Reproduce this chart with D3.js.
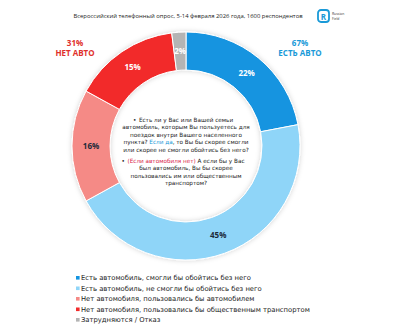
<!DOCTYPE html>
<html>
<head>
<meta charset="utf-8">
<script src="https://cdn.jsdelivr.net/npm/d3@7"></script>
<style>
  body { margin: 0; background: #fff; }
  text { font-family: "Open Sans", "Liberation Sans", Arial, sans-serif; }
  .q, .legend text { font-family: "DejaVu Sans", Verdana, sans-serif; }
</style>
</head>
<body>
<div id="chart"></div>
<script>
// survey answers, clockwise from the top
var categories = [
  "Есть автомобиль, смогли бы обойтись без него",
  "Есть автомобиль, не смогли бы обойтись без него",
  "Нет автомобиля, пользовались бы автомобилем",
  "Нет автомобиля, пользовались бы общественным транспортом",
  "Затрудняются / Отказ"
];
var values = [22, 45, 16, 15, 2];
var colors = ["#1394e0", "#8fd5f8", "#f58a86", "#f22b2b", "#b4b4b4"];
var labelColors = ["#fff", "#1d2a3a", "#1d2a3a", "#fff", "#fff"];

// group totals shown at the top corners
var groups = [
  {value: "67%", name: "ЕСТЬ АВТО", color: "#1a9ad8", side: "right"},
  {value: "31%", name: "НЕТ АВТО", color: "#e0302c", side: "left"}
];

var title = "Всероссийский телефонный опрос, 5-14 февраля 2026 года, 1600 респондентов";

// question text inside the hole, pieces: [text, color]
var question1 = [
  [["Есть ли у Вас или Вашей семьи", null]],
  [["автомобиль, которым Вы пользуетесь для", null]],
  [["поездок внутри Вашего населенного", null]],
  [["пункта? ", null], ["Если да", "#1a9ad8"], [", то Вы бы скорее смогли", null]],
  [["или скорее не смогли обойтись без него?", null]]
];
var question2 = [
  [["(Если автомобиля нет)", "#d8244a"], [" А если бы у Вас", null]],
  [["был автомобиль, Вы бы скорее", null]],
  [["пользовались им или общественным", null]],
  [["транспортом?", null]]
];

var width = 400, height = 327;
var cx = 186, cy = 146, outerR = 114, innerR = 76;

var svg = d3.select("#chart").append("svg")
  .attr("width", width)
  .attr("height", height);

var defs = svg.append("defs");
var shadow = defs.append("filter").attr("id", "shadow")
  .attr("x", "-20%").attr("y", "-20%").attr("width", "140%").attr("height", "140%");
shadow.append("feDropShadow")
  .attr("dx", 0).attr("dy", 0)
  .attr("stdDeviation", 2.5)
  .attr("flood-color", "#000")
  .attr("flood-opacity", 0.18);

// title + logo
svg.append("text")
  .attr("x", 188).attr("y", 18)
  .attr("text-anchor", "middle")
  .style("font-size", "5.9px")
  .style("fill", "#222")
  .text(title);

var logo = svg.append("g").attr("transform", "translate(318,10)");
logo.append("rect")
  .attr("width", 11).attr("height", 12).attr("rx", 3)
  .attr("fill", "none").attr("stroke", "#1a9ad8").attr("stroke-width", 1.8);
logo.append("text")
  .attr("x", 5.5).attr("y", 9.5).attr("text-anchor", "middle")
  .style("font-size", "8px").style("font-weight", "bold").style("fill", "#1a9ad8")
  .text("R");
logo.append("text").attr("x", 14).attr("y", 5)
  .style("font-size", "3.4px").style("fill", "#333").text("Russian");
logo.append("text").attr("x", 14).attr("y", 9.5)
  .style("font-size", "3.4px").style("fill", "#333").text("Field");

// donut
var pie = d3.pie().sort(null).value(function(d) { return d; });
var arc = d3.arc().innerRadius(innerR).outerRadius(outerR);
var labelArc = d3.arc().innerRadius((innerR + outerR) / 2).outerRadius((innerR + outerR) / 2);

var g = svg.append("g").attr("transform", "translate(" + cx + "," + cy + ")");
var ring = g.append("g").attr("filter", "url(#shadow)");
ring.selectAll("path")
  .data(pie(values))
  .enter().append("path")
  .attr("d", arc)
  .attr("fill", function(d, i) { return colors[i]; })
  .attr("stroke", "#fff")
  .attr("stroke-width", 1);

g.selectAll(".slice-label")
  .data(pie(values))
  .enter().append("text")
  .attr("class", "slice-label")
  .attr("transform", function(d) { return "translate(" + labelArc.centroid(d) + ")"; })
  .attr("dy", "0.35em")
  .attr("text-anchor", "middle")
  .style("font-size", "8px")
  .style("font-weight", "bold")
  .style("fill", function(d, i) { return labelColors[i]; })
  .text(function(d) { return d.data + "%"; });

// group labels
groups.forEach(function(gr) {
  var x = gr.side === "right" ? 300 : 75;
  svg.append("text").attr("x", x).attr("y", 46).attr("text-anchor", "middle")
    .style("font-size", "8px").style("font-weight", "bold").style("fill", gr.color)
    .text(gr.value);
  svg.append("text").attr("x", x).attr("y", 56).attr("text-anchor", "middle")
    .style("font-size", "8px").style("font-weight", "bold").style("fill", gr.color)
    .text(gr.name);
});

// question text
function writeLines(lines, y0) {
  var first;
  lines.forEach(function(parts, i) {
    var t = svg.append("text")
      .attr("class", "q")
      .attr("x", 186).attr("y", y0 + i * 7.4)
      .attr("text-anchor", "middle")
      .style("font-size", "5.7px")
      .style("fill", "#222");
    parts.forEach(function(p) {
      t.append("tspan")
        .style("fill", p[1] || "#222")
        .text(p[0]);
    });
    if (i === 0) first = t;
  });
  // bullet to the left of the first line
  var w = first.node().getComputedTextLength();
  svg.append("text").attr("class", "q")
    .attr("x", 186 - w / 2 - 6).attr("y", y0)
    .style("font-size", "5.7px").style("fill", "#222").text("•");
}
writeLines(question1, 122);
writeLines(question2, 163);

// legend
var legend = svg.append("g").attr("class", "legend").attr("transform", "translate(76,280)");
categories.forEach(function(c, i) {
  var row = legend.append("g").attr("transform", "translate(0," + (i * 10.5) + ")");
  row.append("rect").attr("x", 0).attr("y", -4).attr("width", 3.6).attr("height", 3.6)
    .attr("fill", colors[i]);
  row.append("text").attr("x", 5).attr("y", 0)
    .style("font-size", "6.8px").style("fill", "#222")
    .text(c);
});
</script>
</body>
</html>
